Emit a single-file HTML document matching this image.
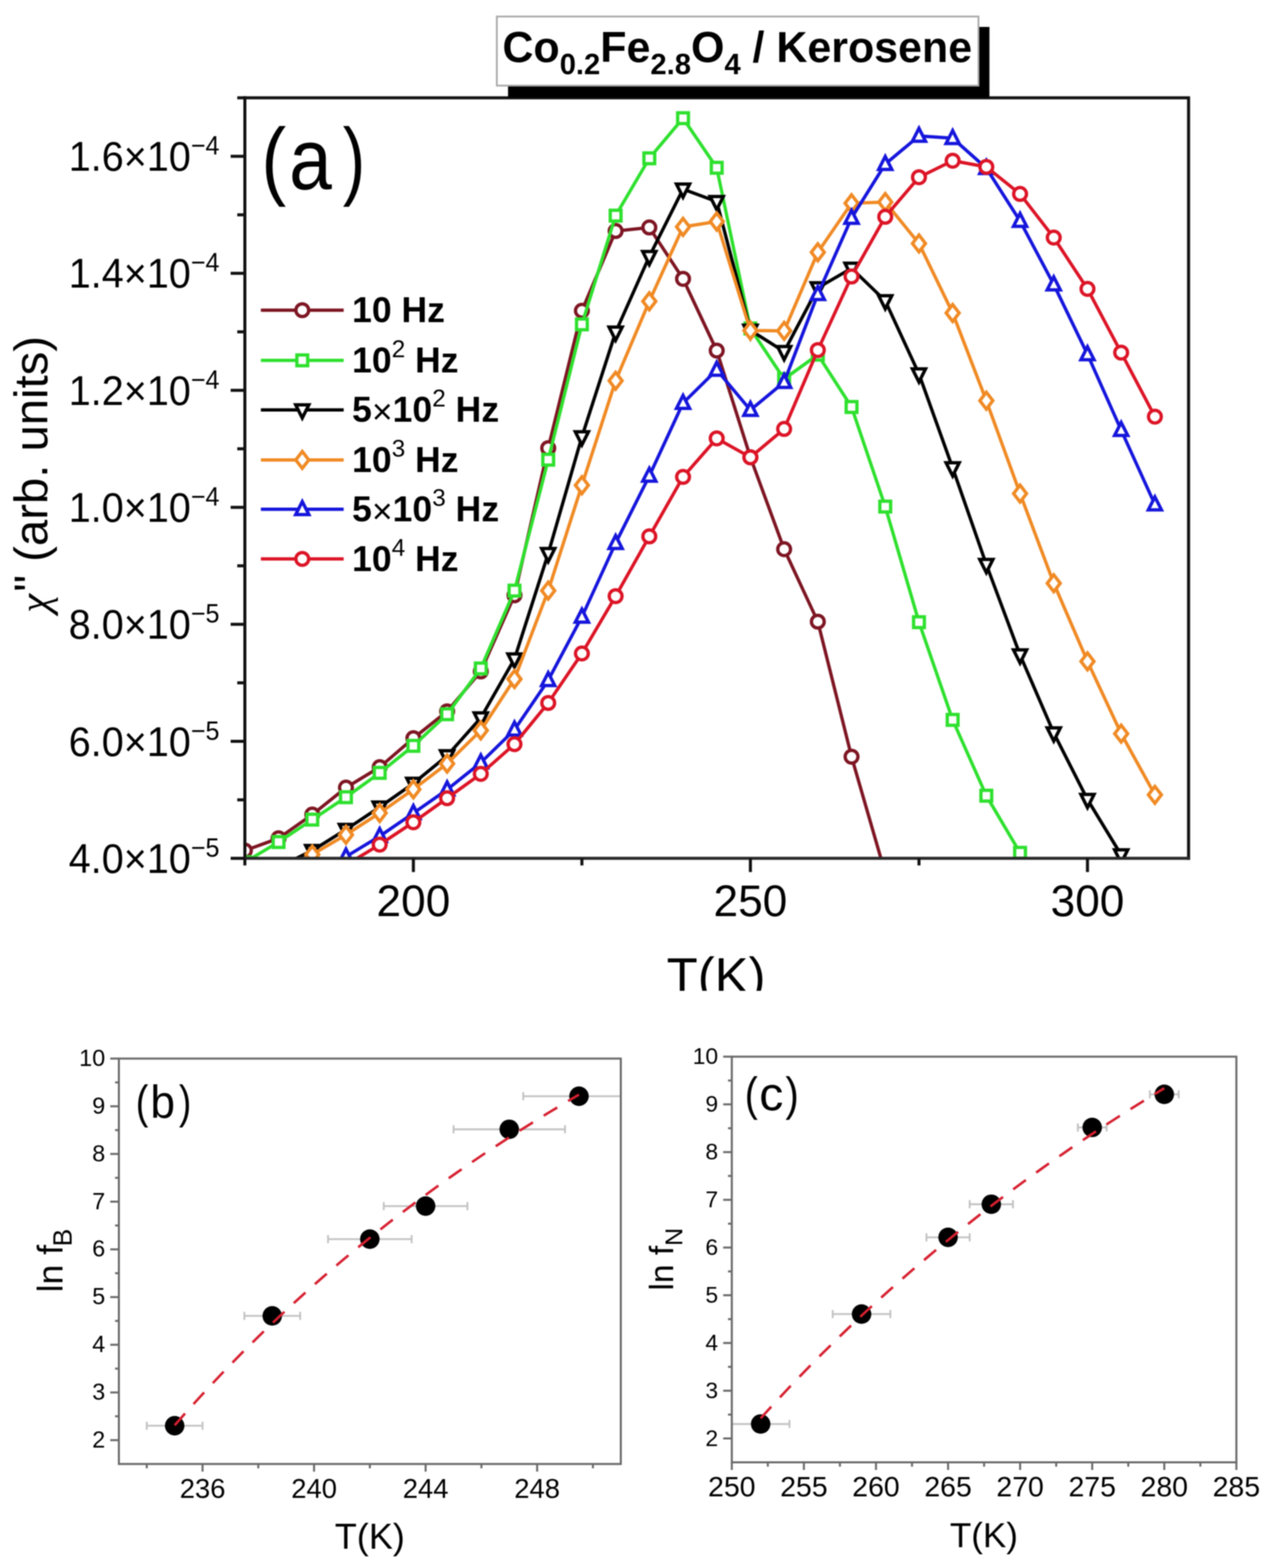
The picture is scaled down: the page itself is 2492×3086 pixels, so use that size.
<!DOCTYPE html>
<html><head><meta charset="utf-8"><title>Co0.2Fe2.8O4 / Kerosene</title>
<style>html,body{margin:0;padding:0;background:#fff;width:2492px;height:3086px;overflow:hidden}</style>
</head><body>
<svg width="2492" height="3086" viewBox="0 0 2492 3086" style="display:block;filter:blur(1.1px)">
<rect x="0" y="0" width="2492" height="3086" fill="#fff"/>
<defs><clipPath id="ca"><rect x="482.0" y="192.5" width="1857.6" height="1496.8"/></clipPath><clipPath id="cb"><rect x="234" y="2083.4" width="988" height="797.6"/></clipPath><clipPath id="cc"><rect x="1440.5" y="2079.6" width="993.2" height="798.4"/></clipPath><clipPath id="ctop"><rect x="0" y="0" width="2492" height="1950"/></clipPath></defs>
<g clip-path="url(#ca)">
<path d="M482.0,1674.0 L548.3,1649.9 L614.7,1603.2 L681.0,1550.1 L747.4,1509.9 L813.7,1452.9 L880.1,1400.0 L946.4,1321.5 L1012.7,1171.6 L1079.1,882.0 L1145.4,611.6 L1211.8,454.7 L1278.1,447.7 L1344.5,548.8 L1410.8,690.0 L1477.1,900.0 L1543.5,1080.9 L1609.8,1223.5 L1676.2,1489.3 L1742.5,1718.7" fill="none" stroke="#7d1522" stroke-width="6.5" stroke-linejoin="round"/>
<circle cx="482.0" cy="1674.0" r="12.6" fill="#fff" stroke="#7d1522" stroke-width="6.5"/>
<circle cx="548.3" cy="1649.9" r="12.6" fill="#fff" stroke="#7d1522" stroke-width="6.5"/>
<circle cx="614.7" cy="1603.2" r="12.6" fill="#fff" stroke="#7d1522" stroke-width="6.5"/>
<circle cx="681.0" cy="1550.1" r="12.6" fill="#fff" stroke="#7d1522" stroke-width="6.5"/>
<circle cx="747.4" cy="1509.9" r="12.6" fill="#fff" stroke="#7d1522" stroke-width="6.5"/>
<circle cx="813.7" cy="1452.9" r="12.6" fill="#fff" stroke="#7d1522" stroke-width="6.5"/>
<circle cx="880.1" cy="1400.0" r="12.6" fill="#fff" stroke="#7d1522" stroke-width="6.5"/>
<circle cx="946.4" cy="1321.5" r="12.6" fill="#fff" stroke="#7d1522" stroke-width="6.5"/>
<circle cx="1012.7" cy="1171.6" r="12.6" fill="#fff" stroke="#7d1522" stroke-width="6.5"/>
<circle cx="1079.1" cy="882.0" r="12.6" fill="#fff" stroke="#7d1522" stroke-width="6.5"/>
<circle cx="1145.4" cy="611.6" r="12.6" fill="#fff" stroke="#7d1522" stroke-width="6.5"/>
<circle cx="1211.8" cy="454.7" r="12.6" fill="#fff" stroke="#7d1522" stroke-width="6.5"/>
<circle cx="1278.1" cy="447.7" r="12.6" fill="#fff" stroke="#7d1522" stroke-width="6.5"/>
<circle cx="1344.5" cy="548.8" r="12.6" fill="#fff" stroke="#7d1522" stroke-width="6.5"/>
<circle cx="1410.8" cy="690.0" r="12.6" fill="#fff" stroke="#7d1522" stroke-width="6.5"/>
<circle cx="1477.1" cy="900.0" r="12.6" fill="#fff" stroke="#7d1522" stroke-width="6.5"/>
<circle cx="1543.5" cy="1080.9" r="12.6" fill="#fff" stroke="#7d1522" stroke-width="6.5"/>
<circle cx="1609.8" cy="1223.5" r="12.6" fill="#fff" stroke="#7d1522" stroke-width="6.5"/>
<circle cx="1676.2" cy="1489.3" r="12.6" fill="#fff" stroke="#7d1522" stroke-width="6.5"/>
<circle cx="1742.5" cy="1718.7" r="12.6" fill="#fff" stroke="#7d1522" stroke-width="6.5"/>
<path d="M482.0,1697.0 L548.3,1657.2 L614.7,1613.1 L681.0,1569.0 L747.4,1521.1 L813.7,1467.9 L880.1,1405.7 L946.4,1315.6 L1012.7,1162.4 L1079.1,904.7 L1145.4,638.4 L1211.8,424.4 L1278.1,311.6 L1344.5,232.6 L1410.8,330.2 L1477.1,646.5 L1543.5,746.0 L1609.8,698.0 L1676.2,801.0 L1742.5,997.0 L1808.9,1224.5 L1875.2,1416.8 L1941.5,1566.0 L2007.9,1678.4 L2074.2,1760.0" fill="none" stroke="#2ee02e" stroke-width="6.5" stroke-linejoin="round"/>
<rect x="471.4" y="1686.4" width="21.2" height="21.2" fill="#fff" stroke="#2ee02e" stroke-width="6.5"/>
<rect x="537.7" y="1646.6" width="21.2" height="21.2" fill="#fff" stroke="#2ee02e" stroke-width="6.5"/>
<rect x="604.1" y="1602.5" width="21.2" height="21.2" fill="#fff" stroke="#2ee02e" stroke-width="6.5"/>
<rect x="670.4" y="1558.4" width="21.2" height="21.2" fill="#fff" stroke="#2ee02e" stroke-width="6.5"/>
<rect x="736.8" y="1510.5" width="21.2" height="21.2" fill="#fff" stroke="#2ee02e" stroke-width="6.5"/>
<rect x="803.1" y="1457.3" width="21.2" height="21.2" fill="#fff" stroke="#2ee02e" stroke-width="6.5"/>
<rect x="869.5" y="1395.1" width="21.2" height="21.2" fill="#fff" stroke="#2ee02e" stroke-width="6.5"/>
<rect x="935.8" y="1305.0" width="21.2" height="21.2" fill="#fff" stroke="#2ee02e" stroke-width="6.5"/>
<rect x="1002.1" y="1151.8" width="21.2" height="21.2" fill="#fff" stroke="#2ee02e" stroke-width="6.5"/>
<rect x="1068.5" y="894.1" width="21.2" height="21.2" fill="#fff" stroke="#2ee02e" stroke-width="6.5"/>
<rect x="1134.8" y="627.8" width="21.2" height="21.2" fill="#fff" stroke="#2ee02e" stroke-width="6.5"/>
<rect x="1201.2" y="413.8" width="21.2" height="21.2" fill="#fff" stroke="#2ee02e" stroke-width="6.5"/>
<rect x="1267.5" y="301.0" width="21.2" height="21.2" fill="#fff" stroke="#2ee02e" stroke-width="6.5"/>
<rect x="1333.9" y="222.0" width="21.2" height="21.2" fill="#fff" stroke="#2ee02e" stroke-width="6.5"/>
<rect x="1400.2" y="319.6" width="21.2" height="21.2" fill="#fff" stroke="#2ee02e" stroke-width="6.5"/>
<rect x="1466.5" y="635.9" width="21.2" height="21.2" fill="#fff" stroke="#2ee02e" stroke-width="6.5"/>
<rect x="1532.9" y="735.4" width="21.2" height="21.2" fill="#fff" stroke="#2ee02e" stroke-width="6.5"/>
<rect x="1599.2" y="687.4" width="21.2" height="21.2" fill="#fff" stroke="#2ee02e" stroke-width="6.5"/>
<rect x="1665.6" y="790.4" width="21.2" height="21.2" fill="#fff" stroke="#2ee02e" stroke-width="6.5"/>
<rect x="1731.9" y="986.4" width="21.2" height="21.2" fill="#fff" stroke="#2ee02e" stroke-width="6.5"/>
<rect x="1798.3" y="1213.9" width="21.2" height="21.2" fill="#fff" stroke="#2ee02e" stroke-width="6.5"/>
<rect x="1864.6" y="1406.2" width="21.2" height="21.2" fill="#fff" stroke="#2ee02e" stroke-width="6.5"/>
<rect x="1930.9" y="1555.4" width="21.2" height="21.2" fill="#fff" stroke="#2ee02e" stroke-width="6.5"/>
<rect x="1997.3" y="1667.8" width="21.2" height="21.2" fill="#fff" stroke="#2ee02e" stroke-width="6.5"/>
<rect x="2063.6" y="1749.4" width="21.2" height="21.2" fill="#fff" stroke="#2ee02e" stroke-width="6.5"/>
<path d="M548.3,1706.5 L614.7,1674.0 L681.0,1632.6 L747.4,1588.5 L813.7,1541.8 L880.1,1487.4 L946.4,1412.9 L1012.7,1296.9 L1079.1,1089.5 L1145.4,859.7 L1211.8,653.7 L1278.1,504.9 L1344.5,372.3 L1410.8,396.7 L1477.1,650.0 L1543.5,692.0 L1609.8,566.5 L1676.2,528.0 L1742.5,592.0 L1808.9,736.0 L1875.2,920.8 L1941.5,1111.0 L2007.9,1289.0 L2074.2,1442.5 L2140.6,1573.5 L2206.9,1682.5 L2273.3,1790.0" fill="none" stroke="#000000" stroke-width="6.5" stroke-linejoin="round"/>
<path d="M535.3,1696.5 L561.3,1696.5 L548.3,1722.5 Z" fill="#fff" stroke="#000000" stroke-width="6.5" stroke-linejoin="miter" stroke-miterlimit="3"/>
<path d="M601.7,1664.0 L627.7,1664.0 L614.7,1690.0 Z" fill="#fff" stroke="#000000" stroke-width="6.5" stroke-linejoin="miter" stroke-miterlimit="3"/>
<path d="M668.0,1622.6 L694.0,1622.6 L681.0,1648.6 Z" fill="#fff" stroke="#000000" stroke-width="6.5" stroke-linejoin="miter" stroke-miterlimit="3"/>
<path d="M734.4,1578.5 L760.4,1578.5 L747.4,1604.5 Z" fill="#fff" stroke="#000000" stroke-width="6.5" stroke-linejoin="miter" stroke-miterlimit="3"/>
<path d="M800.7,1531.8 L826.7,1531.8 L813.7,1557.8 Z" fill="#fff" stroke="#000000" stroke-width="6.5" stroke-linejoin="miter" stroke-miterlimit="3"/>
<path d="M867.1,1477.4 L893.1,1477.4 L880.1,1503.4 Z" fill="#fff" stroke="#000000" stroke-width="6.5" stroke-linejoin="miter" stroke-miterlimit="3"/>
<path d="M933.4,1402.9 L959.4,1402.9 L946.4,1428.9 Z" fill="#fff" stroke="#000000" stroke-width="6.5" stroke-linejoin="miter" stroke-miterlimit="3"/>
<path d="M999.7,1286.9 L1025.7,1286.9 L1012.7,1312.9 Z" fill="#fff" stroke="#000000" stroke-width="6.5" stroke-linejoin="miter" stroke-miterlimit="3"/>
<path d="M1066.1,1079.5 L1092.1,1079.5 L1079.1,1105.5 Z" fill="#fff" stroke="#000000" stroke-width="6.5" stroke-linejoin="miter" stroke-miterlimit="3"/>
<path d="M1132.4,849.7 L1158.4,849.7 L1145.4,875.7 Z" fill="#fff" stroke="#000000" stroke-width="6.5" stroke-linejoin="miter" stroke-miterlimit="3"/>
<path d="M1198.8,643.7 L1224.8,643.7 L1211.8,669.7 Z" fill="#fff" stroke="#000000" stroke-width="6.5" stroke-linejoin="miter" stroke-miterlimit="3"/>
<path d="M1265.1,494.9 L1291.1,494.9 L1278.1,520.9 Z" fill="#fff" stroke="#000000" stroke-width="6.5" stroke-linejoin="miter" stroke-miterlimit="3"/>
<path d="M1331.5,362.3 L1357.5,362.3 L1344.5,388.3 Z" fill="#fff" stroke="#000000" stroke-width="6.5" stroke-linejoin="miter" stroke-miterlimit="3"/>
<path d="M1397.8,386.7 L1423.8,386.7 L1410.8,412.7 Z" fill="#fff" stroke="#000000" stroke-width="6.5" stroke-linejoin="miter" stroke-miterlimit="3"/>
<path d="M1464.1,640.0 L1490.1,640.0 L1477.1,666.0 Z" fill="#fff" stroke="#000000" stroke-width="6.5" stroke-linejoin="miter" stroke-miterlimit="3"/>
<path d="M1530.5,682.0 L1556.5,682.0 L1543.5,708.0 Z" fill="#fff" stroke="#000000" stroke-width="6.5" stroke-linejoin="miter" stroke-miterlimit="3"/>
<path d="M1596.8,556.5 L1622.8,556.5 L1609.8,582.5 Z" fill="#fff" stroke="#000000" stroke-width="6.5" stroke-linejoin="miter" stroke-miterlimit="3"/>
<path d="M1663.2,518.0 L1689.2,518.0 L1676.2,544.0 Z" fill="#fff" stroke="#000000" stroke-width="6.5" stroke-linejoin="miter" stroke-miterlimit="3"/>
<path d="M1729.5,582.0 L1755.5,582.0 L1742.5,608.0 Z" fill="#fff" stroke="#000000" stroke-width="6.5" stroke-linejoin="miter" stroke-miterlimit="3"/>
<path d="M1795.9,726.0 L1821.9,726.0 L1808.9,752.0 Z" fill="#fff" stroke="#000000" stroke-width="6.5" stroke-linejoin="miter" stroke-miterlimit="3"/>
<path d="M1862.2,910.8 L1888.2,910.8 L1875.2,936.8 Z" fill="#fff" stroke="#000000" stroke-width="6.5" stroke-linejoin="miter" stroke-miterlimit="3"/>
<path d="M1928.5,1101.0 L1954.5,1101.0 L1941.5,1127.0 Z" fill="#fff" stroke="#000000" stroke-width="6.5" stroke-linejoin="miter" stroke-miterlimit="3"/>
<path d="M1994.9,1279.0 L2020.9,1279.0 L2007.9,1305.0 Z" fill="#fff" stroke="#000000" stroke-width="6.5" stroke-linejoin="miter" stroke-miterlimit="3"/>
<path d="M2061.2,1432.5 L2087.2,1432.5 L2074.2,1458.5 Z" fill="#fff" stroke="#000000" stroke-width="6.5" stroke-linejoin="miter" stroke-miterlimit="3"/>
<path d="M2127.6,1563.5 L2153.6,1563.5 L2140.6,1589.5 Z" fill="#fff" stroke="#000000" stroke-width="6.5" stroke-linejoin="miter" stroke-miterlimit="3"/>
<path d="M2193.9,1672.5 L2219.9,1672.5 L2206.9,1698.5 Z" fill="#fff" stroke="#000000" stroke-width="6.5" stroke-linejoin="miter" stroke-miterlimit="3"/>
<path d="M2260.3,1780.0 L2286.3,1780.0 L2273.3,1806.0 Z" fill="#fff" stroke="#000000" stroke-width="6.5" stroke-linejoin="miter" stroke-miterlimit="3"/>
<path d="M548.3,1715.0 L614.7,1681.8 L681.0,1642.9 L747.4,1600.1 L813.7,1553.5 L880.1,1502.9 L946.4,1437.5 L1012.7,1336.4 L1079.1,1162.4 L1145.4,955.0 L1211.8,749.3 L1278.1,593.0 L1344.5,446.5 L1410.8,436.0 L1477.1,650.5 L1543.5,651.2 L1609.8,496.5 L1676.2,400.0 L1742.5,397.7 L1808.9,479.2 L1875.2,616.0 L1941.5,788.6 L2007.9,971.4 L2074.2,1147.9 L2140.6,1301.7 L2206.9,1443.9 L2273.3,1564.3" fill="none" stroke="#f08a24" stroke-width="6.5" stroke-linejoin="round"/>
<path d="M548.3,1698.4 L561.1,1715.0 L548.3,1731.6 L535.5,1715.0 Z" fill="#fff" stroke="#f08a24" stroke-width="6.5" stroke-linejoin="miter"/>
<path d="M614.7,1665.2 L627.5,1681.8 L614.7,1698.4 L601.9,1681.8 Z" fill="#fff" stroke="#f08a24" stroke-width="6.5" stroke-linejoin="miter"/>
<path d="M681.0,1626.3 L693.8,1642.9 L681.0,1659.5 L668.2,1642.9 Z" fill="#fff" stroke="#f08a24" stroke-width="6.5" stroke-linejoin="miter"/>
<path d="M747.4,1583.5 L760.2,1600.1 L747.4,1616.7 L734.6,1600.1 Z" fill="#fff" stroke="#f08a24" stroke-width="6.5" stroke-linejoin="miter"/>
<path d="M813.7,1536.9 L826.5,1553.5 L813.7,1570.1 L800.9,1553.5 Z" fill="#fff" stroke="#f08a24" stroke-width="6.5" stroke-linejoin="miter"/>
<path d="M880.1,1486.3 L892.9,1502.9 L880.1,1519.5 L867.3,1502.9 Z" fill="#fff" stroke="#f08a24" stroke-width="6.5" stroke-linejoin="miter"/>
<path d="M946.4,1420.9 L959.2,1437.5 L946.4,1454.1 L933.6,1437.5 Z" fill="#fff" stroke="#f08a24" stroke-width="6.5" stroke-linejoin="miter"/>
<path d="M1012.7,1319.8 L1025.5,1336.4 L1012.7,1353.0 L999.9,1336.4 Z" fill="#fff" stroke="#f08a24" stroke-width="6.5" stroke-linejoin="miter"/>
<path d="M1079.1,1145.8 L1091.9,1162.4 L1079.1,1179.0 L1066.3,1162.4 Z" fill="#fff" stroke="#f08a24" stroke-width="6.5" stroke-linejoin="miter"/>
<path d="M1145.4,938.4 L1158.2,955.0 L1145.4,971.6 L1132.6,955.0 Z" fill="#fff" stroke="#f08a24" stroke-width="6.5" stroke-linejoin="miter"/>
<path d="M1211.8,732.7 L1224.6,749.3 L1211.8,765.9 L1199.0,749.3 Z" fill="#fff" stroke="#f08a24" stroke-width="6.5" stroke-linejoin="miter"/>
<path d="M1278.1,576.4 L1290.9,593.0 L1278.1,609.6 L1265.3,593.0 Z" fill="#fff" stroke="#f08a24" stroke-width="6.5" stroke-linejoin="miter"/>
<path d="M1344.5,429.9 L1357.3,446.5 L1344.5,463.1 L1331.7,446.5 Z" fill="#fff" stroke="#f08a24" stroke-width="6.5" stroke-linejoin="miter"/>
<path d="M1410.8,419.4 L1423.6,436.0 L1410.8,452.6 L1398.0,436.0 Z" fill="#fff" stroke="#f08a24" stroke-width="6.5" stroke-linejoin="miter"/>
<path d="M1477.1,633.9 L1489.9,650.5 L1477.1,667.1 L1464.3,650.5 Z" fill="#fff" stroke="#f08a24" stroke-width="6.5" stroke-linejoin="miter"/>
<path d="M1543.5,634.6 L1556.3,651.2 L1543.5,667.8 L1530.7,651.2 Z" fill="#fff" stroke="#f08a24" stroke-width="6.5" stroke-linejoin="miter"/>
<path d="M1609.8,479.9 L1622.6,496.5 L1609.8,513.1 L1597.0,496.5 Z" fill="#fff" stroke="#f08a24" stroke-width="6.5" stroke-linejoin="miter"/>
<path d="M1676.2,383.4 L1689.0,400.0 L1676.2,416.6 L1663.4,400.0 Z" fill="#fff" stroke="#f08a24" stroke-width="6.5" stroke-linejoin="miter"/>
<path d="M1742.5,381.1 L1755.3,397.7 L1742.5,414.3 L1729.7,397.7 Z" fill="#fff" stroke="#f08a24" stroke-width="6.5" stroke-linejoin="miter"/>
<path d="M1808.9,462.6 L1821.7,479.2 L1808.9,495.8 L1796.1,479.2 Z" fill="#fff" stroke="#f08a24" stroke-width="6.5" stroke-linejoin="miter"/>
<path d="M1875.2,599.4 L1888.0,616.0 L1875.2,632.6 L1862.4,616.0 Z" fill="#fff" stroke="#f08a24" stroke-width="6.5" stroke-linejoin="miter"/>
<path d="M1941.5,772.0 L1954.3,788.6 L1941.5,805.2 L1928.7,788.6 Z" fill="#fff" stroke="#f08a24" stroke-width="6.5" stroke-linejoin="miter"/>
<path d="M2007.9,954.8 L2020.7,971.4 L2007.9,988.0 L1995.1,971.4 Z" fill="#fff" stroke="#f08a24" stroke-width="6.5" stroke-linejoin="miter"/>
<path d="M2074.2,1131.3 L2087.0,1147.9 L2074.2,1164.5 L2061.4,1147.9 Z" fill="#fff" stroke="#f08a24" stroke-width="6.5" stroke-linejoin="miter"/>
<path d="M2140.6,1285.1 L2153.4,1301.7 L2140.6,1318.3 L2127.8,1301.7 Z" fill="#fff" stroke="#f08a24" stroke-width="6.5" stroke-linejoin="miter"/>
<path d="M2206.9,1427.3 L2219.7,1443.9 L2206.9,1460.5 L2194.1,1443.9 Z" fill="#fff" stroke="#f08a24" stroke-width="6.5" stroke-linejoin="miter"/>
<path d="M2273.3,1547.7 L2286.1,1564.3 L2273.3,1580.9 L2260.5,1564.3 Z" fill="#fff" stroke="#f08a24" stroke-width="6.5" stroke-linejoin="miter"/>
<path d="M614.7,1725.0 L681.0,1686.0 L747.4,1645.8 L813.7,1600.4 L880.1,1554.0 L946.4,1501.0 L1012.7,1436.2 L1079.1,1338.8 L1145.4,1214.0 L1211.8,1069.0 L1278.1,936.6 L1344.5,793.2 L1410.8,728.0 L1477.1,807.0 L1543.5,752.0 L1609.8,579.0 L1676.2,429.0 L1742.5,323.0 L1808.9,267.5 L1875.2,272.0 L1941.5,331.0 L2007.9,435.0 L2074.2,560.0 L2140.6,697.5 L2206.9,846.5 L2273.3,993.0" fill="none" stroke="#1515dc" stroke-width="6.5" stroke-linejoin="round"/>
<path d="M601.7,1735.5 L627.7,1735.5 L614.7,1710.0 Z" fill="#fff" stroke="#1515dc" stroke-width="6.5" stroke-linejoin="miter" stroke-miterlimit="3"/>
<path d="M668.0,1696.5 L694.0,1696.5 L681.0,1671.0 Z" fill="#fff" stroke="#1515dc" stroke-width="6.5" stroke-linejoin="miter" stroke-miterlimit="3"/>
<path d="M734.4,1656.3 L760.4,1656.3 L747.4,1630.8 Z" fill="#fff" stroke="#1515dc" stroke-width="6.5" stroke-linejoin="miter" stroke-miterlimit="3"/>
<path d="M800.7,1610.9 L826.7,1610.9 L813.7,1585.4 Z" fill="#fff" stroke="#1515dc" stroke-width="6.5" stroke-linejoin="miter" stroke-miterlimit="3"/>
<path d="M867.1,1564.5 L893.1,1564.5 L880.1,1539.0 Z" fill="#fff" stroke="#1515dc" stroke-width="6.5" stroke-linejoin="miter" stroke-miterlimit="3"/>
<path d="M933.4,1511.5 L959.4,1511.5 L946.4,1486.0 Z" fill="#fff" stroke="#1515dc" stroke-width="6.5" stroke-linejoin="miter" stroke-miterlimit="3"/>
<path d="M999.7,1446.7 L1025.7,1446.7 L1012.7,1421.2 Z" fill="#fff" stroke="#1515dc" stroke-width="6.5" stroke-linejoin="miter" stroke-miterlimit="3"/>
<path d="M1066.1,1349.3 L1092.1,1349.3 L1079.1,1323.8 Z" fill="#fff" stroke="#1515dc" stroke-width="6.5" stroke-linejoin="miter" stroke-miterlimit="3"/>
<path d="M1132.4,1224.5 L1158.4,1224.5 L1145.4,1199.0 Z" fill="#fff" stroke="#1515dc" stroke-width="6.5" stroke-linejoin="miter" stroke-miterlimit="3"/>
<path d="M1198.8,1079.5 L1224.8,1079.5 L1211.8,1054.0 Z" fill="#fff" stroke="#1515dc" stroke-width="6.5" stroke-linejoin="miter" stroke-miterlimit="3"/>
<path d="M1265.1,947.1 L1291.1,947.1 L1278.1,921.6 Z" fill="#fff" stroke="#1515dc" stroke-width="6.5" stroke-linejoin="miter" stroke-miterlimit="3"/>
<path d="M1331.5,803.7 L1357.5,803.7 L1344.5,778.2 Z" fill="#fff" stroke="#1515dc" stroke-width="6.5" stroke-linejoin="miter" stroke-miterlimit="3"/>
<path d="M1397.8,738.5 L1423.8,738.5 L1410.8,713.0 Z" fill="#fff" stroke="#1515dc" stroke-width="6.5" stroke-linejoin="miter" stroke-miterlimit="3"/>
<path d="M1464.1,817.5 L1490.1,817.5 L1477.1,792.0 Z" fill="#fff" stroke="#1515dc" stroke-width="6.5" stroke-linejoin="miter" stroke-miterlimit="3"/>
<path d="M1530.5,762.5 L1556.5,762.5 L1543.5,737.0 Z" fill="#fff" stroke="#1515dc" stroke-width="6.5" stroke-linejoin="miter" stroke-miterlimit="3"/>
<path d="M1596.8,589.5 L1622.8,589.5 L1609.8,564.0 Z" fill="#fff" stroke="#1515dc" stroke-width="6.5" stroke-linejoin="miter" stroke-miterlimit="3"/>
<path d="M1663.2,439.5 L1689.2,439.5 L1676.2,414.0 Z" fill="#fff" stroke="#1515dc" stroke-width="6.5" stroke-linejoin="miter" stroke-miterlimit="3"/>
<path d="M1729.5,333.5 L1755.5,333.5 L1742.5,308.0 Z" fill="#fff" stroke="#1515dc" stroke-width="6.5" stroke-linejoin="miter" stroke-miterlimit="3"/>
<path d="M1795.9,278.0 L1821.9,278.0 L1808.9,252.5 Z" fill="#fff" stroke="#1515dc" stroke-width="6.5" stroke-linejoin="miter" stroke-miterlimit="3"/>
<path d="M1862.2,282.5 L1888.2,282.5 L1875.2,257.0 Z" fill="#fff" stroke="#1515dc" stroke-width="6.5" stroke-linejoin="miter" stroke-miterlimit="3"/>
<path d="M1928.5,341.5 L1954.5,341.5 L1941.5,316.0 Z" fill="#fff" stroke="#1515dc" stroke-width="6.5" stroke-linejoin="miter" stroke-miterlimit="3"/>
<path d="M1994.9,445.5 L2020.9,445.5 L2007.9,420.0 Z" fill="#fff" stroke="#1515dc" stroke-width="6.5" stroke-linejoin="miter" stroke-miterlimit="3"/>
<path d="M2061.2,570.5 L2087.2,570.5 L2074.2,545.0 Z" fill="#fff" stroke="#1515dc" stroke-width="6.5" stroke-linejoin="miter" stroke-miterlimit="3"/>
<path d="M2127.6,708.0 L2153.6,708.0 L2140.6,682.5 Z" fill="#fff" stroke="#1515dc" stroke-width="6.5" stroke-linejoin="miter" stroke-miterlimit="3"/>
<path d="M2193.9,857.0 L2219.9,857.0 L2206.9,831.5 Z" fill="#fff" stroke="#1515dc" stroke-width="6.5" stroke-linejoin="miter" stroke-miterlimit="3"/>
<path d="M2260.3,1003.5 L2286.3,1003.5 L2273.3,978.0 Z" fill="#fff" stroke="#1515dc" stroke-width="6.5" stroke-linejoin="miter" stroke-miterlimit="3"/>
<path d="M681.0,1702.5 L747.4,1662.3 L813.7,1618.3 L880.1,1571.0 L946.4,1523.1 L1012.7,1464.6 L1079.1,1383.5 L1145.4,1286.1 L1211.8,1173.3 L1278.1,1055.7 L1344.5,938.6 L1410.8,862.8 L1477.1,900.0 L1543.5,844.2 L1609.8,689.0 L1676.2,544.2 L1742.5,426.7 L1808.9,348.8 L1875.2,316.3 L1941.5,328.5 L2007.9,381.7 L2074.2,467.6 L2140.6,568.6 L2206.9,694.0 L2273.3,820.0" fill="none" stroke="#dc1426" stroke-width="6.5" stroke-linejoin="round"/>
<circle cx="681.0" cy="1702.5" r="12.6" fill="#fff" stroke="#dc1426" stroke-width="6.5"/>
<circle cx="747.4" cy="1662.3" r="12.6" fill="#fff" stroke="#dc1426" stroke-width="6.5"/>
<circle cx="813.7" cy="1618.3" r="12.6" fill="#fff" stroke="#dc1426" stroke-width="6.5"/>
<circle cx="880.1" cy="1571.0" r="12.6" fill="#fff" stroke="#dc1426" stroke-width="6.5"/>
<circle cx="946.4" cy="1523.1" r="12.6" fill="#fff" stroke="#dc1426" stroke-width="6.5"/>
<circle cx="1012.7" cy="1464.6" r="12.6" fill="#fff" stroke="#dc1426" stroke-width="6.5"/>
<circle cx="1079.1" cy="1383.5" r="12.6" fill="#fff" stroke="#dc1426" stroke-width="6.5"/>
<circle cx="1145.4" cy="1286.1" r="12.6" fill="#fff" stroke="#dc1426" stroke-width="6.5"/>
<circle cx="1211.8" cy="1173.3" r="12.6" fill="#fff" stroke="#dc1426" stroke-width="6.5"/>
<circle cx="1278.1" cy="1055.7" r="12.6" fill="#fff" stroke="#dc1426" stroke-width="6.5"/>
<circle cx="1344.5" cy="938.6" r="12.6" fill="#fff" stroke="#dc1426" stroke-width="6.5"/>
<circle cx="1410.8" cy="862.8" r="12.6" fill="#fff" stroke="#dc1426" stroke-width="6.5"/>
<circle cx="1477.1" cy="900.0" r="12.6" fill="#fff" stroke="#dc1426" stroke-width="6.5"/>
<circle cx="1543.5" cy="844.2" r="12.6" fill="#fff" stroke="#dc1426" stroke-width="6.5"/>
<circle cx="1609.8" cy="689.0" r="12.6" fill="#fff" stroke="#dc1426" stroke-width="6.5"/>
<circle cx="1676.2" cy="544.2" r="12.6" fill="#fff" stroke="#dc1426" stroke-width="6.5"/>
<circle cx="1742.5" cy="426.7" r="12.6" fill="#fff" stroke="#dc1426" stroke-width="6.5"/>
<circle cx="1808.9" cy="348.8" r="12.6" fill="#fff" stroke="#dc1426" stroke-width="6.5"/>
<circle cx="1875.2" cy="316.3" r="12.6" fill="#fff" stroke="#dc1426" stroke-width="6.5"/>
<circle cx="1941.5" cy="328.5" r="12.6" fill="#fff" stroke="#dc1426" stroke-width="6.5"/>
<circle cx="2007.9" cy="381.7" r="12.6" fill="#fff" stroke="#dc1426" stroke-width="6.5"/>
<circle cx="2074.2" cy="467.6" r="12.6" fill="#fff" stroke="#dc1426" stroke-width="6.5"/>
<circle cx="2140.6" cy="568.6" r="12.6" fill="#fff" stroke="#dc1426" stroke-width="6.5"/>
<circle cx="2206.9" cy="694.0" r="12.6" fill="#fff" stroke="#dc1426" stroke-width="6.5"/>
<circle cx="2273.3" cy="820.0" r="12.6" fill="#fff" stroke="#dc1426" stroke-width="6.5"/>
</g>
<g stroke="#111" stroke-width="6.0" fill="none" stroke-linecap="square">
<path d="M482.0,192.5 L2339.6,192.5 L2339.6,1689.3"/>
<path d="M482.0,192.5 L482.0,1689.3"/>
<path d="M482.0,1689.3 L2339.6,1689.3" stroke="#2a2a2a"/>
<path d="M482.0,1689.3 L454.0,1689.3" stroke-linecap="butt"/>
<path d="M482.0,1574.2 L467.0,1574.2" stroke-linecap="butt"/>
<path d="M482.0,1459.0 L454.0,1459.0" stroke-linecap="butt"/>
<path d="M482.0,1343.9 L467.0,1343.9" stroke-linecap="butt"/>
<path d="M482.0,1228.7 L454.0,1228.7" stroke-linecap="butt"/>
<path d="M482.0,1113.6 L467.0,1113.6" stroke-linecap="butt"/>
<path d="M482.0,998.5 L454.0,998.5" stroke-linecap="butt"/>
<path d="M482.0,883.3 L467.0,883.3" stroke-linecap="butt"/>
<path d="M482.0,768.2 L454.0,768.2" stroke-linecap="butt"/>
<path d="M482.0,653.1 L467.0,653.1" stroke-linecap="butt"/>
<path d="M482.0,537.9 L454.0,537.9" stroke-linecap="butt"/>
<path d="M482.0,422.8 L467.0,422.8" stroke-linecap="butt"/>
<path d="M482.0,307.6 L454.0,307.6" stroke-linecap="butt"/>
<path d="M482.0,192.5 L467.0,192.5" stroke-linecap="butt"/>
<path d="M482.0,1689.3 L482.0,1703.3" stroke-linecap="butt"/>
<path d="M813.7,1689.3 L813.7,1716.3" stroke-linecap="butt"/>
<path d="M1145.4,1689.3 L1145.4,1703.3" stroke-linecap="butt"/>
<path d="M1477.1,1689.3 L1477.1,1716.3" stroke-linecap="butt"/>
<path d="M1808.9,1689.3 L1808.9,1703.3" stroke-linecap="butt"/>
<path d="M2140.6,1689.3 L2140.6,1716.3" stroke-linecap="butt"/>
</g>
<text transform="translate(432,1717.8) scale(0.95,1)" font-family="'Liberation Sans', Arial, sans-serif" font-size="82" text-anchor="end" fill="#000">4.0×10<tspan font-size="52" dy="-32">−5</tspan></text>
<text transform="translate(432,1487.5) scale(0.95,1)" font-family="'Liberation Sans', Arial, sans-serif" font-size="82" text-anchor="end" fill="#000">6.0×10<tspan font-size="52" dy="-32">−5</tspan></text>
<text transform="translate(432,1257.2) scale(0.95,1)" font-family="'Liberation Sans', Arial, sans-serif" font-size="82" text-anchor="end" fill="#000">8.0×10<tspan font-size="52" dy="-32">−5</tspan></text>
<text transform="translate(432,1027.0) scale(0.95,1)" font-family="'Liberation Sans', Arial, sans-serif" font-size="82" text-anchor="end" fill="#000">1.0×10<tspan font-size="52" dy="-32">−4</tspan></text>
<text transform="translate(432,796.7) scale(0.95,1)" font-family="'Liberation Sans', Arial, sans-serif" font-size="82" text-anchor="end" fill="#000">1.2×10<tspan font-size="52" dy="-32">−4</tspan></text>
<text transform="translate(432,566.4) scale(0.95,1)" font-family="'Liberation Sans', Arial, sans-serif" font-size="82" text-anchor="end" fill="#000">1.4×10<tspan font-size="52" dy="-32">−4</tspan></text>
<text transform="translate(432,336.1) scale(0.95,1)" font-family="'Liberation Sans', Arial, sans-serif" font-size="82" text-anchor="end" fill="#000">1.6×10<tspan font-size="52" dy="-32">−4</tspan></text>
<text x="813.7" y="1803" font-family="'Liberation Sans', Arial, sans-serif" font-size="87" text-anchor="middle" fill="#000">200</text>
<text x="1477.1" y="1803" font-family="'Liberation Sans', Arial, sans-serif" font-size="87" text-anchor="middle" fill="#000">250</text>
<text x="2140.6" y="1803" font-family="'Liberation Sans', Arial, sans-serif" font-size="87" text-anchor="middle" fill="#000">300</text>
<g clip-path="url(#ctop)"><text x="1409.5" y="1955" font-family="'Liberation Sans', Arial, sans-serif" font-size="100" text-anchor="middle" fill="#000">T(K)</text></g>
<text transform="translate(93.4,1206) rotate(-90)" font-family="'Liberation Sans', Arial, sans-serif" font-size="93" fill="#000"><tspan font-family="Liberation Serif, serif" font-style="italic" font-size="84" dy="3">χ</tspan><tspan dy="-3" dx="4.5" font-style="normal">" (arb. units)</tspan></text>
<text transform="translate(514.4,372.1) scale(0.86,1)" font-family="'Liberation Sans', Arial, sans-serif" font-size="170" fill="#000">(</text><text transform="translate(568.9,372.1) scale(0.89,1)" font-family="'Liberation Sans', Arial, sans-serif" font-size="170" fill="#000">a</text><text transform="translate(674.8,372.1) scale(0.78,1)" font-family="'Liberation Sans', Arial, sans-serif" font-size="170" fill="#000">)</text>
<path d="M513.5,610.5 L676.5,610.5" stroke="#7d1522" stroke-width="6.5"/>
<circle cx="595.0" cy="610.5" r="12.6" fill="#fff" stroke="#7d1522" stroke-width="6.5"/>
<text x="693" y="634.0" font-family="'Liberation Sans', Arial, sans-serif" font-size="70" font-weight="bold" fill="#000">10 Hz</text>
<path d="M513.5,709.2 L676.5,709.2" stroke="#2ee02e" stroke-width="6.5"/>
<rect x="584.4" y="698.6" width="21.2" height="21.2" fill="#fff" stroke="#2ee02e" stroke-width="6.5"/>
<text x="693" y="732.7" font-family="'Liberation Sans', Arial, sans-serif" font-size="70" font-weight="bold" fill="#000">10<tspan font-weight="normal" font-size="48" dy="-30">2</tspan><tspan dy="30"> Hz</tspan></text>
<path d="M513.5,806.8 L676.5,806.8" stroke="#000000" stroke-width="6.5"/>
<path d="M582.0,796.8 L608.0,796.8 L595.0,822.8 Z" fill="#fff" stroke="#000000" stroke-width="6.5" stroke-linejoin="miter" stroke-miterlimit="3"/>
<text x="693" y="830.3" font-family="'Liberation Sans', Arial, sans-serif" font-size="70" font-weight="bold" fill="#000">5<tspan font-weight="normal" dy="4">×</tspan><tspan dy="-4">10</tspan><tspan font-weight="normal" font-size="48" dy="-30">2</tspan><tspan dy="30"> Hz</tspan></text>
<path d="M513.5,905.2 L676.5,905.2" stroke="#f08a24" stroke-width="6.5"/>
<path d="M595.0,888.6 L607.8,905.2 L595.0,921.8 L582.2,905.2 Z" fill="#fff" stroke="#f08a24" stroke-width="6.5" stroke-linejoin="miter"/>
<text x="693" y="928.7" font-family="'Liberation Sans', Arial, sans-serif" font-size="70" font-weight="bold" fill="#000">10<tspan font-weight="normal" font-size="48" dy="-30">3</tspan><tspan dy="30"> Hz</tspan></text>
<path d="M513.5,1002.2 L676.5,1002.2" stroke="#1515dc" stroke-width="6.5"/>
<path d="M582.0,1012.7 L608.0,1012.7 L595.0,987.2 Z" fill="#fff" stroke="#1515dc" stroke-width="6.5" stroke-linejoin="miter" stroke-miterlimit="3"/>
<text x="693" y="1025.7" font-family="'Liberation Sans', Arial, sans-serif" font-size="70" font-weight="bold" fill="#000">5<tspan font-weight="normal" dy="4">×</tspan><tspan dy="-4">10</tspan><tspan font-weight="normal" font-size="48" dy="-30">3</tspan><tspan dy="30"> Hz</tspan></text>
<path d="M513.5,1100 L676.5,1100" stroke="#dc1426" stroke-width="6.5"/>
<circle cx="595.0" cy="1100.0" r="12.6" fill="#fff" stroke="#dc1426" stroke-width="6.5"/>
<text x="693" y="1123.5" font-family="'Liberation Sans', Arial, sans-serif" font-size="70" font-weight="bold" fill="#000">10<tspan font-weight="normal" font-size="48" dy="-30">4</tspan><tspan dy="30"> Hz</tspan></text>
<rect x="1000" y="53" width="947.6" height="139" fill="#000"/>
<rect x="978" y="32.5" width="948" height="136" fill="#fff" stroke="#a8a8a8" stroke-width="3.5"/>
<text x="989" y="121.5" font-family="'Liberation Sans', Arial, sans-serif" font-size="84.5" font-weight="bold" fill="#000">Co<tspan font-size="57.5" dy="24">0.2</tspan><tspan dy="-24">Fe</tspan><tspan font-size="57.5" dy="24">2.8</tspan><tspan dy="-24">O</tspan><tspan font-size="57.5" dy="24">4</tspan><tspan dy="-24"> / Kerosene</tspan></text>
<g clip-path="url(#cb)" stroke="#c2c2c2" stroke-width="3.6" fill="none">
<path d="M288.9,2806.0 L398.7,2806.0 M288.9,2798.0 L288.9,2814.0 M398.7,2798.0 L398.7,2814.0"/>
<path d="M481.0,2589.8 L590.8,2589.8 M481.0,2581.8 L481.0,2597.8 M590.8,2581.8 L590.8,2597.8"/>
<path d="M645.7,2438.7 L810.3,2438.7 M645.7,2430.7 L645.7,2446.7 M810.3,2430.7 L810.3,2446.7"/>
<path d="M755.4,2373.7 L920.1,2373.7 M755.4,2365.7 L755.4,2381.7 M920.1,2365.7 L920.1,2381.7"/>
<path d="M892.7,2222.6 L1112.2,2222.6 M892.7,2214.6 L892.7,2230.6 M1112.2,2214.6 L1112.2,2230.6"/>
<path d="M1029.9,2157.5 L1249.4,2157.5 M1029.9,2149.5 L1029.9,2165.5 M1249.4,2149.5 L1249.4,2165.5"/>
</g>
<circle cx="343.8" cy="2806.0" r="19.2" fill="#000"/>
<circle cx="535.9" cy="2589.8" r="19.2" fill="#000"/>
<circle cx="728.0" cy="2438.7" r="19.2" fill="#000"/>
<circle cx="837.8" cy="2373.7" r="19.2" fill="#000"/>
<circle cx="1002.4" cy="2222.6" r="19.2" fill="#000"/>
<circle cx="1139.7" cy="2157.5" r="19.2" fill="#000"/>
<path d="M343.8,2805.2 L357.0,2790.1 L370.3,2775.1 L383.6,2760.4 L396.8,2745.9 L410.1,2731.6 L423.4,2717.4 L436.6,2703.4 L449.9,2689.6 L463.2,2676.0 L476.4,2662.6 L489.7,2649.3 L503.0,2636.2 L516.2,2623.2 L529.5,2610.4 L542.8,2597.8 L556.0,2585.3 L569.3,2573.0 L582.5,2560.8 L595.8,2548.8 L609.1,2536.9 L622.3,2525.1 L635.6,2513.5 L648.9,2502.0 L662.1,2490.6 L675.4,2479.4 L688.7,2468.3 L701.9,2457.4 L715.2,2446.5 L728.5,2435.8 L741.7,2425.2 L755.0,2414.7 L768.3,2404.3 L781.5,2394.1 L794.8,2383.9 L808.0,2373.9 L821.3,2364.0 L834.6,2354.2 L847.8,2344.5 L861.1,2334.8 L874.4,2325.3 L887.6,2315.9 L900.9,2306.6 L914.2,2297.4 L927.4,2288.3 L940.7,2279.3 L954.0,2270.3 L967.2,2261.5 L980.5,2252.8 L993.8,2244.1 L1007.0,2235.5 L1020.3,2227.0 L1033.5,2218.6 L1046.8,2210.3 L1060.1,2202.1 L1073.3,2193.9 L1086.6,2185.9 L1099.9,2177.9 L1113.1,2169.9 L1126.4,2162.1 L1139.7,2154.3" fill="none" stroke="#d62030" stroke-width="5" stroke-dasharray="31 25"/>
<g stroke="#6a6a6a" stroke-width="4" fill="none">
<rect x="234" y="2083.4" width="988" height="797.9000000000001"/>
<path d="M234,2834.4 L217,2834.4"/>
<path d="M234,2787.4 L226.5,2787.4"/>
<path d="M234,2740.5 L217,2740.5"/>
<path d="M234,2693.6 L226.5,2693.6"/>
<path d="M234,2646.6 L217,2646.6"/>
<path d="M234,2599.7 L226.5,2599.7"/>
<path d="M234,2552.8 L217,2552.8"/>
<path d="M234,2505.8 L226.5,2505.8"/>
<path d="M234,2458.9 L217,2458.9"/>
<path d="M234,2411.9 L226.5,2411.9"/>
<path d="M234,2365.0 L217,2365.0"/>
<path d="M234,2318.1 L226.5,2318.1"/>
<path d="M234,2271.1 L217,2271.1"/>
<path d="M234,2224.2 L226.5,2224.2"/>
<path d="M234,2177.3 L217,2177.3"/>
<path d="M234,2130.3 L226.5,2130.3"/>
<path d="M234,2083.4 L217,2083.4"/>
<path d="M398.7,2881.3 L398.7,2896.3"/>
<path d="M618.2,2881.3 L618.2,2896.3"/>
<path d="M837.8,2881.3 L837.8,2896.3"/>
<path d="M1057.3,2881.3 L1057.3,2896.3"/>
<path d="M288.9,2881.3 L288.9,2889.8"/>
<path d="M508.4,2881.3 L508.4,2889.8"/>
<path d="M728.0,2881.3 L728.0,2889.8"/>
<path d="M947.6,2881.3 L947.6,2889.8"/>
<path d="M1167.1,2881.3 L1167.1,2889.8"/>
</g>
<text x="207.0" y="2848.9" font-family="'Liberation Sans', Arial, sans-serif" font-size="46" text-anchor="end" fill="#000">2</text>
<text x="207.0" y="2755.0" font-family="'Liberation Sans', Arial, sans-serif" font-size="46" text-anchor="end" fill="#000">3</text>
<text x="207.0" y="2661.1" font-family="'Liberation Sans', Arial, sans-serif" font-size="46" text-anchor="end" fill="#000">4</text>
<text x="207.0" y="2567.3" font-family="'Liberation Sans', Arial, sans-serif" font-size="46" text-anchor="end" fill="#000">5</text>
<text x="207.0" y="2473.4" font-family="'Liberation Sans', Arial, sans-serif" font-size="46" text-anchor="end" fill="#000">6</text>
<text x="207.0" y="2379.5" font-family="'Liberation Sans', Arial, sans-serif" font-size="46" text-anchor="end" fill="#000">7</text>
<text x="207.0" y="2285.6" font-family="'Liberation Sans', Arial, sans-serif" font-size="46" text-anchor="end" fill="#000">8</text>
<text x="207.0" y="2191.8" font-family="'Liberation Sans', Arial, sans-serif" font-size="46" text-anchor="end" fill="#000">9</text>
<text x="207.0" y="2097.9" font-family="'Liberation Sans', Arial, sans-serif" font-size="46" text-anchor="end" fill="#000">10</text>
<text x="398.7" y="2948.3" font-family="'Liberation Sans', Arial, sans-serif" font-size="54" text-anchor="middle" fill="#000">236</text>
<text x="618.2" y="2948.3" font-family="'Liberation Sans', Arial, sans-serif" font-size="54" text-anchor="middle" fill="#000">240</text>
<text x="837.8" y="2948.3" font-family="'Liberation Sans', Arial, sans-serif" font-size="54" text-anchor="middle" fill="#000">244</text>
<text x="1057.3" y="2948.3" font-family="'Liberation Sans', Arial, sans-serif" font-size="54" text-anchor="middle" fill="#000">248</text>
<text transform="translate(267.2,2199.7) scale(0.82,1)" font-family="'Liberation Sans', Arial, sans-serif" font-size="90.8" fill="#000">(</text><text transform="translate(296.1,2199.7) scale(0.96,1)" font-family="'Liberation Sans', Arial, sans-serif" font-size="90.8" fill="#000">b</text><text transform="translate(352.3,2199.7) scale(0.8,1)" font-family="'Liberation Sans', Arial, sans-serif" font-size="90.8" fill="#000">)</text>
<text transform="translate(122.6,2543.5) rotate(-90)" font-family="'Liberation Sans', Arial, sans-serif" font-size="70" fill="#000">ln f<tspan font-size="52" dx="-3" dy="18">B</tspan></text>
<text x="728" y="3048" font-family="'Liberation Sans', Arial, sans-serif" font-size="71" text-anchor="middle" fill="#000">T(K)</text>
<g clip-path="url(#cc)" stroke="#c2c2c2" stroke-width="3.6" fill="none">
<path d="M1440.5,2802.6 L1554.0,2802.6 M1440.5,2794.6 L1440.5,2810.6 M1554.0,2794.6 L1554.0,2810.6"/>
<path d="M1639.1,2586.3 L1752.6,2586.3 M1639.1,2578.3 L1639.1,2594.3 M1752.6,2578.3 L1752.6,2594.3"/>
<path d="M1823.6,2435.2 L1908.7,2435.2 M1823.6,2427.2 L1823.6,2443.2 M1908.7,2427.2 L1908.7,2443.2"/>
<path d="M1908.7,2370.1 L1993.9,2370.1 M1908.7,2362.1 L1908.7,2378.1 M1993.9,2362.1 L1993.9,2378.1"/>
<path d="M2121.6,2218.9 L2178.3,2218.9 M2121.6,2210.9 L2121.6,2226.9 M2178.3,2210.9 L2178.3,2226.9"/>
<path d="M2263.4,2153.8 L2320.2,2153.8 M2263.4,2145.8 L2263.4,2161.8 M2320.2,2145.8 L2320.2,2161.8"/>
</g>
<circle cx="1497.3" cy="2802.6" r="19.2" fill="#000"/>
<circle cx="1695.9" cy="2586.3" r="19.2" fill="#000"/>
<circle cx="1866.2" cy="2435.2" r="19.2" fill="#000"/>
<circle cx="1951.3" cy="2370.1" r="19.2" fill="#000"/>
<circle cx="2149.9" cy="2218.9" r="19.2" fill="#000"/>
<circle cx="2291.8" cy="2153.8" r="19.2" fill="#000"/>
<path d="M1497.3,2791.4 L1510.5,2776.9 L1523.7,2762.4 L1537.0,2748.2 L1550.2,2734.1 L1563.5,2720.2 L1576.7,2706.4 L1590.0,2692.8 L1603.2,2679.4 L1616.4,2666.1 L1629.7,2653.0 L1642.9,2640.0 L1656.2,2627.1 L1669.4,2614.4 L1682.7,2601.8 L1695.9,2589.3 L1709.1,2577.0 L1722.4,2564.9 L1735.6,2552.8 L1748.9,2540.9 L1762.1,2529.1 L1775.4,2517.4 L1788.6,2505.9 L1801.8,2494.5 L1815.1,2483.2 L1828.3,2472.0 L1841.6,2460.9 L1854.8,2449.9 L1868.0,2439.1 L1881.3,2428.3 L1894.5,2417.7 L1907.8,2407.2 L1921.0,2396.7 L1934.3,2386.4 L1947.5,2376.2 L1960.7,2366.1 L1974.0,2356.0 L1987.2,2346.1 L2000.5,2336.3 L2013.7,2326.6 L2027.0,2316.9 L2040.2,2307.4 L2053.4,2297.9 L2066.7,2288.5 L2079.9,2279.2 L2093.2,2270.1 L2106.4,2260.9 L2119.7,2251.9 L2132.9,2243.0 L2146.1,2234.1 L2159.4,2225.3 L2172.6,2216.6 L2185.9,2208.0 L2199.1,2199.5 L2212.4,2191.0 L2225.6,2182.6 L2238.8,2174.3 L2252.1,2166.0 L2265.3,2157.9 L2278.6,2149.8 L2291.8,2141.7" fill="none" stroke="#d62030" stroke-width="5" stroke-dasharray="31 25"/>
<g stroke="#6a6a6a" stroke-width="4" fill="none">
<rect x="1440.5" y="2079.6" width="993.1999999999998" height="798.4000000000001"/>
<path d="M1440.5,2831.0 L1423.5,2831.0"/>
<path d="M1440.5,2784.1 L1433.0,2784.1"/>
<path d="M1440.5,2737.1 L1423.5,2737.1"/>
<path d="M1440.5,2690.1 L1433.0,2690.1"/>
<path d="M1440.5,2643.2 L1423.5,2643.2"/>
<path d="M1440.5,2596.2 L1433.0,2596.2"/>
<path d="M1440.5,2549.2 L1423.5,2549.2"/>
<path d="M1440.5,2502.3 L1433.0,2502.3"/>
<path d="M1440.5,2455.3 L1423.5,2455.3"/>
<path d="M1440.5,2408.4 L1433.0,2408.4"/>
<path d="M1440.5,2361.4 L1423.5,2361.4"/>
<path d="M1440.5,2314.4 L1433.0,2314.4"/>
<path d="M1440.5,2267.5 L1423.5,2267.5"/>
<path d="M1440.5,2220.5 L1433.0,2220.5"/>
<path d="M1440.5,2173.5 L1423.5,2173.5"/>
<path d="M1440.5,2126.6 L1433.0,2126.6"/>
<path d="M1440.5,2079.6 L1423.5,2079.6"/>
<path d="M1440.5,2878 L1440.5,2893"/>
<path d="M1582.4,2878 L1582.4,2893"/>
<path d="M1724.3,2878 L1724.3,2893"/>
<path d="M1866.2,2878 L1866.2,2893"/>
<path d="M2008.0,2878 L2008.0,2893"/>
<path d="M2149.9,2878 L2149.9,2893"/>
<path d="M2291.8,2878 L2291.8,2893"/>
<path d="M2433.7,2878 L2433.7,2893"/>
<path d="M1511.4,2878 L1511.4,2886.5"/>
<path d="M1653.3,2878 L1653.3,2886.5"/>
<path d="M1795.2,2878 L1795.2,2886.5"/>
<path d="M1937.1,2878 L1937.1,2886.5"/>
<path d="M2079.0,2878 L2079.0,2886.5"/>
<path d="M2220.9,2878 L2220.9,2886.5"/>
<path d="M2362.8,2878 L2362.8,2886.5"/>
</g>
<text x="1413.5" y="2845.5" font-family="'Liberation Sans', Arial, sans-serif" font-size="45" text-anchor="end" fill="#000">2</text>
<text x="1413.5" y="2751.6" font-family="'Liberation Sans', Arial, sans-serif" font-size="45" text-anchor="end" fill="#000">3</text>
<text x="1413.5" y="2657.7" font-family="'Liberation Sans', Arial, sans-serif" font-size="45" text-anchor="end" fill="#000">4</text>
<text x="1413.5" y="2563.7" font-family="'Liberation Sans', Arial, sans-serif" font-size="45" text-anchor="end" fill="#000">5</text>
<text x="1413.5" y="2469.8" font-family="'Liberation Sans', Arial, sans-serif" font-size="45" text-anchor="end" fill="#000">6</text>
<text x="1413.5" y="2375.9" font-family="'Liberation Sans', Arial, sans-serif" font-size="45" text-anchor="end" fill="#000">7</text>
<text x="1413.5" y="2282.0" font-family="'Liberation Sans', Arial, sans-serif" font-size="45" text-anchor="end" fill="#000">8</text>
<text x="1413.5" y="2188.0" font-family="'Liberation Sans', Arial, sans-serif" font-size="45" text-anchor="end" fill="#000">9</text>
<text x="1413.5" y="2094.1" font-family="'Liberation Sans', Arial, sans-serif" font-size="45" text-anchor="end" fill="#000">10</text>
<text x="1440.5" y="2945.0" font-family="'Liberation Sans', Arial, sans-serif" font-size="56" text-anchor="middle" fill="#000">250</text>
<text x="1582.4" y="2945.0" font-family="'Liberation Sans', Arial, sans-serif" font-size="56" text-anchor="middle" fill="#000">255</text>
<text x="1724.3" y="2945.0" font-family="'Liberation Sans', Arial, sans-serif" font-size="56" text-anchor="middle" fill="#000">260</text>
<text x="1866.2" y="2945.0" font-family="'Liberation Sans', Arial, sans-serif" font-size="56" text-anchor="middle" fill="#000">265</text>
<text x="2008.0" y="2945.0" font-family="'Liberation Sans', Arial, sans-serif" font-size="56" text-anchor="middle" fill="#000">270</text>
<text x="2149.9" y="2945.0" font-family="'Liberation Sans', Arial, sans-serif" font-size="56" text-anchor="middle" fill="#000">275</text>
<text x="2291.8" y="2945.0" font-family="'Liberation Sans', Arial, sans-serif" font-size="56" text-anchor="middle" fill="#000">280</text>
<text x="2433.7" y="2945.0" font-family="'Liberation Sans', Arial, sans-serif" font-size="56" text-anchor="middle" fill="#000">285</text>
<text transform="translate(1466.1,2185.0) scale(0.84,1)" font-family="'Liberation Sans', Arial, sans-serif" font-size="92" fill="#000">(</text><text transform="translate(1494.5,2185.0) scale(1.03,1)" font-family="'Liberation Sans', Arial, sans-serif" font-size="92" fill="#000">c</text><text transform="translate(1546.0,2185.0) scale(0.86,1)" font-family="'Liberation Sans', Arial, sans-serif" font-size="92" fill="#000">)</text>
<text transform="translate(1325.3,2540) rotate(-90)" font-family="'Liberation Sans', Arial, sans-serif" font-size="66" fill="#000">ln f<tspan font-size="49" dx="0" dy="18">N</tspan></text>
<text x="1936.8" y="3044.7" font-family="'Liberation Sans', Arial, sans-serif" font-size="69" text-anchor="middle" fill="#000">T(K)</text>
</svg>
</body></html>
